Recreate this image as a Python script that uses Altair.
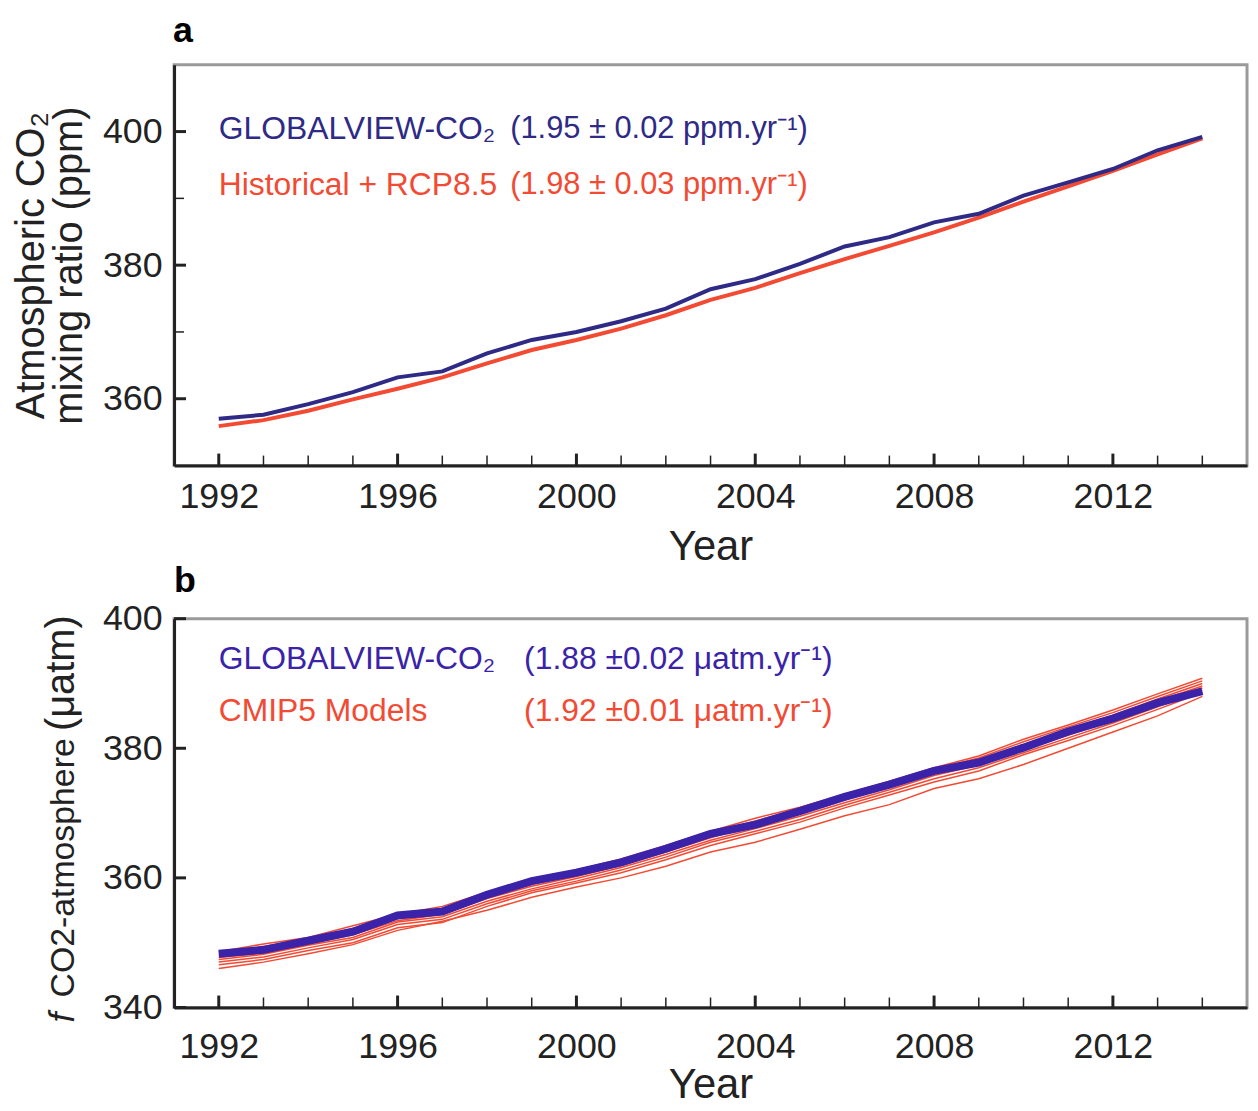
import altair as alt
import pandas as pd

# ---------------- data ----------------
years = list(range(1992, 2015))

# panel a: atmospheric CO2 mixing ratio (ppm)
gv_a = [357.0, 357.6, 359.2, 361.0, 363.2, 364.1, 366.8, 368.8, 370.0, 371.6, 373.5, 376.4,
        377.9, 380.2, 382.8, 384.2, 386.4, 387.7, 390.4, 392.4, 394.4, 397.2, 399.2]
rcp_a = [355.9, 356.8, 358.2, 359.9, 361.5, 363.2, 365.3, 367.3, 368.8, 370.5, 372.5, 374.8,
         376.6, 378.8, 380.9, 382.9, 384.9, 387.1, 389.5, 391.8, 394.1, 396.6, 399.0]

# panel b: fCO2 atmosphere (uatm)
gv_b = [348.3, 348.9, 350.3, 351.7, 354.2, 354.8, 357.4, 359.5, 360.8, 362.4, 364.5, 366.8,
        368.2, 370.3, 372.5, 374.4, 376.5, 377.8, 380.1, 382.6, 384.6, 387.0, 388.8]
cmip5_m1 = [348.6, 349.8, 350.8, 352.6, 354.4, 355.6, 357.8, 359.7, 361.2, 362.9, 365.0, 367.2,
            369.2, 370.9, 372.9, 374.9, 377.0, 378.8, 381.4, 383.6, 385.9, 388.4, 390.8]
cmip5_m2 = [348.2, 349.4, 350.5, 352.2, 354.0, 355.2, 357.4, 359.3, 360.8, 362.6, 364.7, 366.9,
            368.8, 370.6, 372.7, 374.7, 376.8, 378.5, 381.0, 383.3, 385.5, 388.0, 390.4]
cmip5_m3 = [347.9, 349.0, 350.1, 351.9, 353.8, 354.9, 357.1, 359.0, 360.5, 362.2, 364.4, 366.6,
            368.5, 370.3, 372.4, 374.4, 376.5, 378.2, 380.6, 382.9, 385.1, 387.6, 390.0]
cmip5_m4 = [347.7, 348.4, 349.8, 351.2, 353.4, 354.4, 356.8, 358.7, 360.2, 361.9, 364.0, 366.2,
            368.2, 370.0, 372.1, 374.1, 376.2, 377.9, 380.4, 382.7, 384.9, 387.3, 389.6]
cmip5_m5 = [347.4, 348.2, 349.6, 350.8, 353.2, 354.0, 356.4, 358.3, 359.9, 361.6, 363.6, 365.8,
            367.6, 369.5, 371.6, 373.6, 375.8, 377.4, 379.8, 382.0, 384.3, 386.8, 389.3]
cmip5_m6 = [347.0, 347.8, 349.2, 350.5, 352.8, 353.6, 356.0, 358.0, 359.5, 361.2, 363.2, 365.5,
            367.2, 369.0, 371.2, 373.2, 375.3, 377.0, 379.3, 381.6, 383.9, 386.4, 389.0]
cmip5_m7 = [346.6, 347.4, 348.8, 350.0, 352.3, 353.1, 355.6, 357.7, 359.2, 360.8, 362.8, 365.0,
            366.8, 368.6, 370.8, 372.8, 374.8, 376.5, 379.0, 381.2, 383.5, 386.0, 388.6]
cmip5_m8 = [346.0, 347.0, 348.3, 349.7, 351.9, 353.3, 355.0, 357.0, 358.6, 360.0, 361.8, 364.0,
            365.5, 367.5, 369.6, 371.3, 373.8, 375.3, 377.5, 380.0, 382.5, 385.0, 388.0]
cmip5_models = [cmip5_m1, cmip5_m2, cmip5_m3, cmip5_m4, cmip5_m5, cmip5_m6, cmip5_m7, cmip5_m8]

# axis ticks / labels
x_major = [1992, 1996, 2000, 2004, 2008, 2012]
x_all = years
ya_major = [360, 380, 400]
ya_minor = [370, 390]
yb_major = [340, 360, 380, 400]

# texts
panel_labels = ["a", "b"]
legend_a = ["GLOBALVIEW-CO\u2082", "Historical + RCP8.5"]
rate_a = ["(1.95 \u00b1 0.02 ppm.yr\u207b\u00b9)", "(1.98 \u00b1 0.03 ppm.yr\u207b\u00b9)"]
legend_b = ["GLOBALVIEW-CO\u2082", "CMIP5 Models"]
rate_b = ["(1.88 \u00b10.02 \u03bcatm.yr\u207b\u00b9)", "(1.92 \u00b10.01 \u03bcatm.yr\u207b\u00b9)"]
ytitle_a = ["Atmospheric CO\u2082", "mixing ratio (ppm)"]
ytitle_b = ["f", "CO2-atmosphere", "(\u03bcatm)"]

# ---------------- style ----------------
FONT = "Liberation Sans"
BLUE_A = "#2e2a86"
BLUE_B = "#3a23a8"
RED = "#f24a33"
INK = "#222222"
W = 1079
HA = 403
HB = 391

xscale = alt.Scale(domain=[1991, 2015], nice=False, zero=False)
ya_scale = alt.Scale(domain=[350, 410], nice=False, zero=False)
yb_scale = alt.Scale(domain=[340, 400], nice=False, zero=False)


def x_axis(label_pad, title_pad):
    return alt.Axis(values=x_major, format="d", ticks=False, grid=False,
                    domainColor=INK, domainWidth=3, labelFlush=False,
                    labelFont=FONT, labelFontSize=36, labelColor=INK, labelPadding=label_pad,
                    title="Year", titleFont=FONT, titleFontSize=42, titleFontWeight="normal",
                    titleColor=INK, titlePadding=title_pad)


def y_axis(values, title, title_pad):
    kw = dict(values=values, format="d", ticks=False, grid=False,
              domainColor=INK, domainWidth=3,
              labelFont=FONT, labelFontSize=36, labelColor=INK, labelPadding=12)
    if title is None:
        kw["title"] = ""
    else:
        kw.update(title=title, titleFont=FONT, titleFontSize=40, titleFontWeight="normal",
                  titleColor=INK, titlePadding=title_pad, titleLineHeight=38)
    return alt.Axis(**kw)


def xticks(values, yscale, xax, H, length, width):
    return alt.Chart(pd.DataFrame({"year": values})).mark_rule(color=INK, strokeWidth=width).encode(
        x=alt.X("year:Q", scale=xscale, axis=xax),
        y=alt.value(H), y2=alt.value(H - length))


def yticks(values, yscale, yax, length, width):
    return alt.Chart(pd.DataFrame({"value": values})).mark_rule(color=INK, strokeWidth=width).encode(
        y=alt.Y("value:Q", scale=yscale, axis=yax),
        x=alt.value(0), x2=alt.value(length))


def text(t, x, y, color, size, baseline="middle", **kw):
    return alt.Chart(pd.DataFrame({"t": [t]})).mark_text(
        font=FONT, fontSize=size, color=color, align="left", baseline=baseline, **kw
    ).encode(text="t:N", x=alt.value(x), y=alt.value(y))


# ---------------- panel a ----------------
xa_axis = x_axis(14, 13)
ya_axis = y_axis(ya_major, ytitle_a, 13)

df_rcp_a = pd.DataFrame({"year": years, "value": rcp_a})
df_gv_a = pd.DataFrame({"year": years, "value": gv_a})

line_rcp_a = alt.Chart(df_rcp_a).mark_line(color=RED, strokeWidth=4).encode(
    x=alt.X("year:Q", scale=xscale, axis=xa_axis),
    y=alt.Y("value:Q", scale=ya_scale, axis=ya_axis))
line_gv_a = alt.Chart(df_gv_a).mark_line(color=BLUE_A, strokeWidth=4).encode(
    x=alt.X("year:Q", scale=xscale, axis=xa_axis),
    y=alt.Y("value:Q", scale=ya_scale, axis=ya_axis))

panel_a = alt.layer(
    line_rcp_a, line_gv_a,
    xticks(x_all, ya_scale, xa_axis, HA, 10, 1.5),
    xticks(x_major, ya_scale, xa_axis, HA, 12, 3),
    yticks(ya_minor, ya_scale, ya_axis, 10, 1.5),
    yticks(ya_major, ya_scale, ya_axis, 12, 3),
    text(legend_a[0], 45, 65, BLUE_A, 32),
    text(rate_a[0], 338, 65, BLUE_A, 31),
    text(legend_a[1], 45, 121, RED, 32),
    text(rate_a[1], 338, 121, RED, 31),
    text(panel_labels[0], -1, -23, "#000000", 36, baseline="alphabetic", fontWeight="bold"),
).properties(width=W, height=HA)

# ---------------- panel b ----------------
xb_axis = x_axis(22, 1)
yb_axis = y_axis(yb_major, None, 0)

rows = []
for i, m in enumerate(cmip5_models):
    for yr, v in zip(years, m):
        rows.append({"year": yr, "value": v, "model": f"m{i + 1}"})
df_models = pd.DataFrame(rows)
df_gv_b = pd.DataFrame({"year": years, "value": gv_b})

lines_models = alt.Chart(df_models).mark_line(color=RED, strokeWidth=1.5).encode(
    x=alt.X("year:Q", scale=xscale, axis=xb_axis),
    y=alt.Y("value:Q", scale=yb_scale, axis=yb_axis),
    detail="model:N")
line_gv_b = alt.Chart(df_gv_b).mark_line(color=BLUE_B, strokeWidth=8).encode(
    x=alt.X("year:Q", scale=xscale, axis=xb_axis),
    y=alt.Y("value:Q", scale=yb_scale, axis=yb_axis))


def vtext(t, x, y, size, style="normal"):
    return alt.Chart(pd.DataFrame({"t": [t]})).mark_text(
        font=FONT, fontSize=size, color=INK, align="left", baseline="alphabetic",
        angle=270, fontStyle=style
    ).encode(text="t:N", x=alt.value(x), y=alt.value(y))


panel_b = alt.layer(
    lines_models, line_gv_b,
    xticks(x_all, yb_scale, xb_axis, HB, 10, 1.5),
    xticks(x_major, yb_scale, xb_axis, HB, 12, 3),
    yticks(yb_major, yb_scale, yb_axis, 12, 3),
    text(legend_b[0], 45, 41, BLUE_B, 32),
    text(rate_b[0], 352, 41, BLUE_B, 32),
    text(legend_b[1], 45, 93, RED, 32),
    text(rate_b[1], 352, 93, RED, 32),
    vtext(ytitle_b[0], -101, 406, 36, "italic"),
    vtext(ytitle_b[1], -101, 381, 34),
    vtext(ytitle_b[2], -101, 113, 40),
    text(panel_labels[1], 0, -27, "#000000", 36, baseline="alphabetic", fontWeight="bold"),
).properties(width=W, height=HB)

chart = alt.vconcat(panel_a, panel_b, spacing=154, bounds="flush").configure_view(
    stroke="#9a9a9a", strokeWidth=3
).properties(padding={"left": 2, "top": 0, "right": 1, "bottom": 0})

chart.save("out.html", embed_options={"renderer": "svg", "actions": False})
